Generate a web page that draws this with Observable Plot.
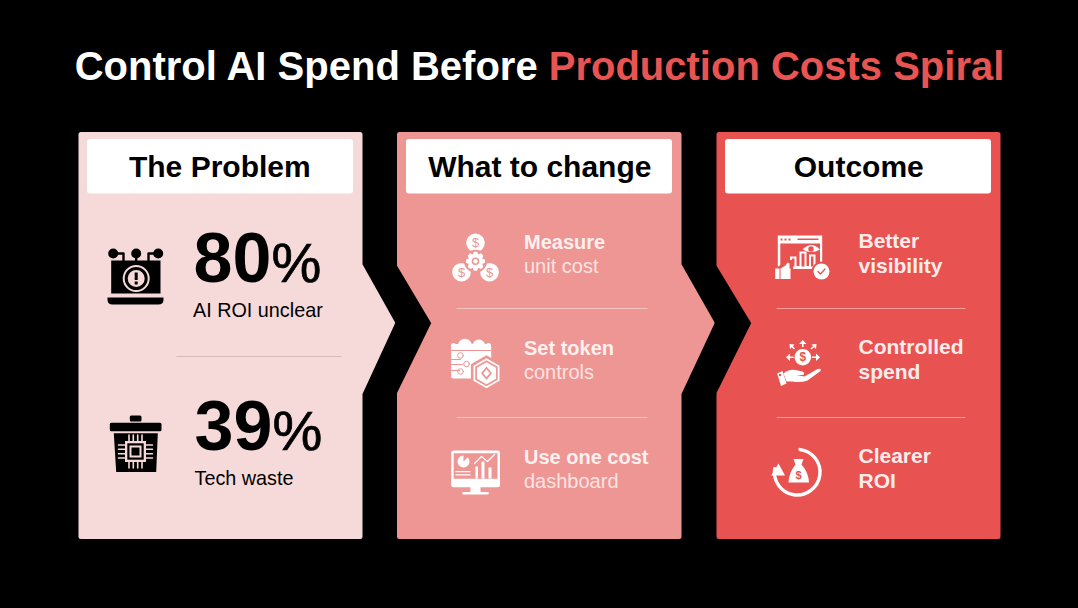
<!DOCTYPE html>
<html><head><meta charset="utf-8">
<script src="https://cdn.jsdelivr.net/npm/d3@7"></script>
<script src="https://cdn.jsdelivr.net/npm/@observablehq/plot@0.6"></script>
<style>html,body{margin:0;padding:0;background:#000;overflow:hidden}svg{display:block}</style>
</head><body><div id="chart"></div>
<script>
// ---- content
const titleLead = "Control AI Spend Before ";
const titleAccent = "Production Costs Spiral";
const panelTitles = ["The Problem", "What to change", "Outcome"];
const statValues = ["80", "39"];
const statLabels = ["AI ROI unclear", "Tech waste"];
const changeHeads = ["Measure", "Set token", "Use one cost"];
const changeTails = ["unit cost", "controls", "dashboard"];
const outcomeHeads = ["Better", "Controlled", "Clearer"];
const outcomeTails = ["visibility", "spend", "ROI"];

// ---- palette & layout
const PALE = "#F6DADA", ROSE = "#EE9693", RED = "#E85351", ACCENT = "#E85452";
const font = '"Liberation Sans", Arial, sans-serif';
const T = 131.5, B = 538.5, A0 = 264.5, AM = 322.5, A1 = 393;
const inset = 2.5;
const panelPolys = [
  [[78,T],[362,T],[362,A0],[395.5,AM],[362,A1],[362,B],[78,B]],
  [[396.5,T],[681,T],[681,A0],[715,AM],[681,A1],[681,B],[396.5,B],[396.5,A1],[430,AM],[396.5,A0]],
  [[716,T],[1000,T],[1000,B],[716,B],[716,A1],[750,AM],[716,A0]]
];
const panelColors = [PALE, ROSE, RED];
const headerX = [[87,353],[406,672],[725,991]];
const headerNudge = [-0.7,0.3,0.3];
const rowsY = [[248,272],[354,378],[463,487]];
const rows3Y = [[247,272.5],[353,378],[462,487]];

// ---- path helpers (absolute px, through the identity scale at origin)
const TAU = Math.PI*2;
const Rc = (c,x0,y0,x1,y1)=>{c.moveTo(x0,y0);c.lineTo(x1,y0);c.lineTo(x1,y1);c.lineTo(x0,y1);c.closePath();};
const RR = (c,x0,y0,x1,y1,r)=>{c.moveTo(x0+r,y0);c.arcTo(x1,y0,x1,y1,r);c.arcTo(x1,y1,x0,y1,r);c.arcTo(x0,y1,x0,y0,r);c.arcTo(x0,y0,x1,y0,r);c.closePath();};
const Ci = (c,x,y,r)=>{c.moveTo(x+r,y);c.arc(x,y,r,0,TAU);c.closePath();};
const Po = (c,pts,close=true)=>{pts.forEach((p,i)=>i?c.lineTo(p[0],p[1]):c.moveTo(p[0],p[1]));if(close)c.closePath();};
const Hex = (c,x,y,r)=>{const p=[];for(let i=0;i<6;i++){const a=Math.PI/6+i*TAU/6;p.push([x+r*Math.cos(a),y+r*Math.sin(a)]);}Po(c,p);};
const Gear = (c,x,y,r0,r1,n)=>{const p=[];for(let i=0;i<n;i++){const a=i*TAU/n,w=TAU/n;
  p.push([x+r0*Math.cos(a-w*.5),y+r0*Math.sin(a-w*.5)],[x+r1*Math.cos(a-w*.22),y+r1*Math.sin(a-w*.22)],[x+r1*Math.cos(a+w*.22),y+r1*Math.sin(a+w*.22)]);}Po(c,p);};
const layer = (fill,draw,strokeWidth=0)=>strokeWidth
  ? Plot.dot([0],{x:()=>0,y:()=>0,r:1,symbol:{draw},fill:"none",stroke:fill,strokeWidth,strokeLinecap:"round",strokeLinejoin:"round"})
  : Plot.dot([0],{x:()=>0,y:()=>0,r:1,symbol:{draw},fill,stroke:"none"});

// ---- icons
const K = "#000", W = "#fff";
const iconLaptop = [
  layer(K,c=>{Ci(c,112.7,253,5);Ci(c,135.7,253,5);Ci(c,157.7,253,5);}),
  layer(K,c=>{Po(c,[[112.7,253],[123,253],[123,261]],false);Po(c,[[135.7,253],[135.7,261]],false);Po(c,[[157.7,253],[148,253],[148,261]],false);},2.4),
  layer(K,c=>{Rc(c,110.7,260,160,293);c.moveTo(107,297);c.lineTo(163,297);c.lineTo(163,299);c.quadraticCurveTo(163,304,158,304);c.lineTo(112,304);c.quadraticCurveTo(107,304,107,299);c.closePath();}),
  layer(PALE,c=>{Ci(c,135.7,278,12.5);},2),
  layer(PALE,c=>{Ci(c,135.7,278,8.5);}),
  layer(K,c=>{Rc(c,134.2,272,137.2,279.5);Rc(c,134.2,281,137.2,284);})
];
const iconBin = [
  layer(K,c=>{RR(c,129.3,415,141,421,1.5);RR(c,109.3,422.3,161,430.7,1.5);Po(c,[[113.3,432.7],[157.3,432.7],[155.7,471.5],[115.7,471.5]]);}),
  layer(PALE,c=>{
    [-6.5,-2.2,2.2,6.5].forEach(d=>{c.moveTo(135+d,434.5);c.lineTo(135+d,467.5);c.moveTo(118,451+d);c.lineTo(152,451+d);});
  },1.6),
  layer(PALE,c=>{Rc(c,124.5,440.5,145.5,461.5);}),
  layer(K,c=>{Rc(c,126.8,442.8,143.2,459.2);}),
  layer(PALE,c=>{Rc(c,129,445,141,457);}),
  layer(K,c=>{Rc(c,131,447,139,455);})
];
const iconCoins = [
  layer(W,c=>{Ci(c,475,242.3,9.3);Ci(c,461,271.7,9.3);Ci(c,489,271.7,9.3);}),
  layer(ROSE,c=>{Ci(c,475,260.7,11.5);}),
  layer(W,c=>{Gear(c,475,260.7,7.2,9.6,8);}),
  layer(ROSE,c=>{Ci(c,475,260.7,3.8);}),
  layer(W,c=>{Ci(c,475,260.7,2.2);})
];
const iconToken = [
  layer(W,c=>{Ci(c,464.4,345.5,7.2);Ci(c,478.4,345.5,6.5);Ci(c,453,345,2.5);Ci(c,488,345,2.5);RR(c,450.7,343.5,490.7,378,2);}),
  layer(ROSE,c=>{Rc(c,450.7,349.6,490.7,350.4);}),
  layer(ROSE,c=>{Po(c,[[451,359],[460,359]],false);Po(c,[[451,364],[462,364]],false);Po(c,[[451,370],[459,370]],false);},1),
  layer(ROSE,c=>{Ci(c,460,355,2.8);Ci(c,466,363.5,2.8);Ci(c,460,371,2.8);},1),
  layer(ROSE,c=>{Hex(c,486,372.7,18);}),
  layer(W,c=>{Hex(c,486,372.7,15);}),
  layer(ROSE,c=>{Hex(c,486,372.7,13);}),
  layer(W,c=>{Hex(c,486,372.7,11);}),
  layer(ROSE,c=>{Po(c,[[486,366],[491.5,372.7],[486,379.4],[480.5,372.7]]);}),
  layer(W,c=>{Po(c,[[486,368.8],[489.2,372.7],[486,376.6],[482.8,372.7]]);})
];
const iconMonitor = [
  layer(W,c=>{RR(c,450.7,450,499.5,486.7,2.5);Rc(c,470,486,480,492);RR(c,461.7,491.5,488.3,494,1);}),
  layer(ROSE,c=>{Rc(c,453.2,452.8,497,478.3);}),
  layer(W,c=>{c.moveTo(463,461);c.arc(463,461,6,0,TAU);c.closePath();Rc(c,455,470.5,470,471.7);Rc(c,455,473.7,470,475);
    Rc(c,475,466,477.5,478);Rc(c,481,461,484,478);Rc(c,488,467,491,478);}),
  layer(ROSE,c=>{Po(c,[[463,461],[463,454],[470,454]]);}),
  layer(W,c=>{Po(c,[[474,463],[481,456],[487,461],[494,454]],false);},1.2)
];
const iconWindow = [
  layer(W,c=>{Rc(c,777.3,235,821.7,268);}),
  layer(RED,c=>{Rc(c,779.8,243,819.5,265.5);}),
  layer(RED,c=>{Rc(c,780,238,782,240);Rc(c,784,238,786,240);Rc(c,788,238,790,240);Rc(c,797,238,818,239.5);}),
  layer(W,c=>{Rc(c,789.5,256,796,268);Rc(c,799,251,806,268);Rc(c,808.5,254,815,268);}),
  layer(RED,c=>{Rc(c,791.5,258,794,268);Rc(c,801,253,804,268);Rc(c,810.5,256,813,268);}),
  layer(W,c=>{Rc(c,788,266,821,268.5);}),
  layer(W,c=>{c.moveTo(802,249);c.quadraticCurveTo(811,240,819.5,249);c.quadraticCurveTo(811,254,802,249);c.closePath();}),
  layer(RED,c=>{Ci(c,810.5,248.5,2.7);}),
  layer(RED,c=>{Po(c,[[772,270],[785,261],[792,259],[793,272],[772,280]]);}),
  layer(W,c=>{Rc(c,774.7,268,779,278.5);Po(c,[[780,268],[785,265],[787,262],[789,263],[789,268],[790,268],[790,278.5],[780,278.5]]);}),
  layer(RED,c=>{Ci(c,821,271,10);}),
  layer(W,c=>{Ci(c,821,271,8);}),
  layer(RED,c=>{Po(c,[[817.5,271],[820,273.5],[824.5,268.5]],false);},1.3)
];
const iconHand = [
  layer(W,c=>{Ci(c,802.3,356.7,8.3);}),
  layer(W,c=>{
    Po(c,[[802.3,346],[802.3,341]],false);Po(c,[[792.5,356.7],[787,356.7]],false);Po(c,[[812,356.7],[818,356.7]],false);
    Po(c,[[793.5,348],[790.5,345]],false);Po(c,[[811,348],[814.5,345]],false);
  },1.6),
  layer(W,c=>{
    Po(c,[[802.3,339.5],[806,343.5],[798.6,343.5]]);
    Po(c,[[785.5,356.7],[789.5,353],[789.5,360.4]]);
    Po(c,[[819.5,356.7],[815.5,353],[815.5,360.4]]);
    Po(c,[[789,343.5],[794,344],[789.5,348.5]]);
    Po(c,[[816,343.5],[811,344],[815.5,348.5]]);
  }),
  layer(W,c=>{c.moveTo(783,373);c.quadraticCurveTo(788,368.5,795,369.5);c.lineTo(802,371);c.quadraticCurveTo(805,373,802.5,374.5);c.lineTo(796,374.5);c.lineTo(804,376);c.lineTo(817,368.5);c.quadraticCurveTo(821.5,367.5,820,370.5);
    c.lineTo(807,380);c.quadraticCurveTo(800,382.5,792,381);c.lineTo(786,381);c.closePath();}),
  layer(W,c=>{Po(c,[[776.7,373],[782,370.5],[786,383],[780.5,385.5]]);}),
  layer(RED,c=>{Ci(c,779.5,374.5,1.2);})
];
const iconRoi = [
  layer(W,c=>{c.moveTo(796.7+22.8*Math.cos(-Math.PI*.46),471.7+22.8*Math.sin(-Math.PI*.46));c.arc(796.7,471.7,22.8,-Math.PI*.46,Math.PI*1.05);},3.4),
  layer(W,c=>{Po(c,[[770.7,475],[778,463],[784.5,475]]);}),
  layer(W,c=>{c.moveTo(793,458.5);c.lineTo(803,458.5);c.lineTo(801,464);c.quadraticCurveTo(808,472,808.5,482);c.lineTo(788,482);c.quadraticCurveTo(788.5,472,795,464);c.closePath();}),
];

// ---- titles with coloured part / light-weight percent (Plot binds the index to each text)
const splitText = (parts)=>(index,scales,values,dims,ctx,next)=>{
  const g = next(index,scales,values,dims,ctx);
  d3.select(g).selectAll("text").each(function(_,n){
    const el=d3.select(this); el.text("");
    parts(index[n]).forEach(([s,attrs])=>{const t=el.append("tspan").text(s);Object.entries(attrs).forEach(([k,v])=>t.attr(k,v));});
  });
  return g;
};

const headers = panelTitles.map((t,i)=>({t,x0:headerX[i][0],x1:headerX[i][1],xc:(headerX[i][0]+headerX[i][1])/2+headerNudge[i]}));
const polyRows = panelPolys.flatMap((poly,i)=>{
  const xs=[poly[0][0],poly[1][0]];
  return poly.concat([poly[0]]).map(([x,y])=>({i,
    x:x===xs[0]||(i>0&&x<xs[0]+1)?x+inset:(x===xs[1]?x-inset:(y===AM?x-(i===0||x>xs[1]?inset*1.4:-inset*1.4):x)),
    y:y===T?y+inset:y===B?y-inset:y}));
});
const dividers = [{x1:176,x2:341,y:356,c:"#D9B9B9"},{x1:456,x2:647,y:308,c:"#F6C3C1"},{x1:456,x2:647,y:417,c:"#F6C3C1"},{x1:776,x2:965,y:308,c:"#F49D9B"},{x1:776,x2:965,y:417,c:"#F49D9B"}];
const base = {fontFamily:font, textAnchor:"start", lineAnchor:"bottom"};
const rowText = (labels,x,ys,idx,opts)=>Plot.text(labels,{...base,x:()=>x,y:(d,i)=>ys[i][idx],text:d=>d,fontSize:opts.size,fontWeight:opts.weight,fill:opts.fill});

const plot = Plot.plot({
  width:1078,height:608,margin:0,
  x:{domain:[0,1078],range:[0,1078],axis:null},
  y:{domain:[0,608],range:[0,608],axis:null},
  style:{background:"#000"},
  marks:[
    Plot.text([titleLead+titleAccent],{x:()=>539,y:()=>66.5,text:d=>d,fontFamily:font,fontWeight:"bold",fontSize:40,fill:"#fff",textAnchor:"middle",lineAnchor:"middle",
      render:splitText(()=>[[titleLead,{}],[titleAccent,{fill:ACCENT}]])}),
    ...panelColors.map((c,i)=>Plot.line(polyRows.filter(d=>d.i===i),{x:"x",y:"y",fill:c,stroke:c,strokeWidth:inset*2,strokeLinejoin:"round"})),
    ...headers.map(h=>Plot.rect([h],{x1:"x0",x2:"x1",y1:()=>139,y2:()=>193.5,fill:"#fff",r:3})),
    Plot.text(headers,{x:"xc",y:()=>167,text:"t",fontFamily:font,fontWeight:"bold",fontSize:30,fill:"#000",textAnchor:"middle",lineAnchor:"middle"}),
    Plot.link(dividers,{x1:"x1",x2:"x2",y1:"y",y2:"y",stroke:"c",strokeWidth:1}),
    // stats
    Plot.text(statValues,{...base,x:(d,i)=>[193,194][i],y:(d,i)=>[281,449.5][i],text:d=>d+"%",fontWeight:"bold",fontSize:70,fill:"#000",
      render:splitText(n=>[[statValues[n],{}],["%",{"font-weight":"normal","font-size":56,stroke:"#000","stroke-width":0.7}]])}),
    Plot.text(statLabels,{...base,x:(d,i)=>[192.5,194][i],y:(d,i)=>[316.5,484.5][i],text:d=>d,fontSize:19.8,fill:"#000"}),
    // panel rows
    rowText(changeHeads,523.5,rowsY,0,{size:20,weight:"bold",fill:"#FDF0EF"}),
    rowText(changeTails,523.5,rowsY,1,{size:20,weight:"normal",fill:"#FBE3E2"}),
    rowText(outcomeHeads,858,rows3Y,0,{size:21,weight:"bold",fill:"#FDECEB"}),
    rowText(outcomeTails,858,rows3Y,1,{size:21,weight:"bold",fill:"#FDECEB"}),
    // icons
    ...iconLaptop,...iconBin,...iconCoins,...iconToken,...iconMonitor,...iconWindow,...iconHand,...iconRoi,
    Plot.text(["$","$","$"],{x:(d,i)=>[475,461,489][i],y:(d,i)=>[242.5,272,272][i],text:d=>d,fontFamily:font,fontSize:13,fill:ROSE,textAnchor:"middle",lineAnchor:"middle"}),
    Plot.text(["$"],{x:()=>802.3,y:()=>357,text:d=>d,fontFamily:font,fontWeight:"bold",fontSize:12,fill:RED,textAnchor:"middle",lineAnchor:"middle"}),
    Plot.text(["$"],{x:()=>798,y:()=>475,text:d=>d,fontFamily:font,fontWeight:"bold",fontSize:11,fill:RED,textAnchor:"middle",lineAnchor:"middle"})
  ]
});
document.getElementById("chart").append(plot);
</script></body></html>
